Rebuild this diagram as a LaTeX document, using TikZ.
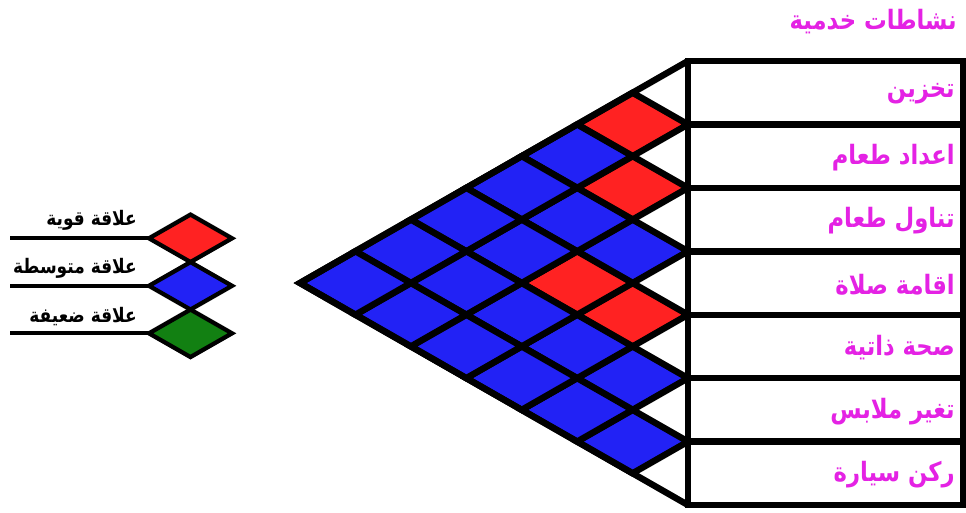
\documentclass[tikz,border=0pt]{standalone}
\usepackage{fontspec}
\setmainfont{DejaVu Sans}
\newfontfamily\arabicfont[Script=Arabic,FakeStretch=0.85]{DejaVu Sans}
\TeXXeTstate=1
\usetikzlibrary{shapes.geometric}
\definecolor{relred}{RGB}{255,34,34}
\definecolor{relblue}{RGB}{34,34,245}
\definecolor{relgreen}{RGB}{18,128,18}
\definecolor{actpink}{RGB}{228,34,228}
\tikzset{
  cell/.style={diamond,draw=black,line width=4.8pt,inner sep=0pt,outer sep=0pt,
    minimum width=83.14pt,minimum height=47.57pt},
  keycell/.style={diamond,draw=black,line width=3.2pt,inner sep=0pt,outer sep=0pt,
    minimum width=62.3pt,minimum height=35.6pt},
  rowbox/.style={draw=black,fill=white,line width=4.8pt,inner sep=0pt,outer sep=0pt,
    minimum width=206.25pt,minimum height=47.57pt},
  outline/.style={draw=black,line width=4.8pt},
  keyline/.style={draw=black,line width=3pt},
  actlabel/.style={anchor=east,text=actpink,inner sep=0pt,
    font=\arabicfont\bfseries\fontsize{20}{24}\selectfont},
  keylabel/.style={anchor=east,inner sep=0pt,
    font=\arabicfont\bfseries\fontsize{15}{18}\selectfont}
}
\begin{document}
\begin{tikzpicture}[x=0.75pt,y=-0.75pt]
  \useasboundingbox (0,0) rectangle (966,512);
  % relation cells
  \foreach \i/\j/\c in {1/2/relred,2/3/relred,3/4/relblue,4/5/relred,5/6/relblue,6/7/relblue,
      1/3/relblue,2/4/relblue,3/5/relred,4/6/relblue,5/7/relblue,
      1/4/relblue,2/5/relblue,3/6/relblue,4/7/relblue,
      1/5/relblue,2/6/relblue,3/7/relblue,
      1/6/relblue,2/7/relblue,1/7/relblue}
    \node[cell,fill=\c] (d\i\j) at ({688-(\j-\i)*55.43},{61+(\i+\j-1)*31.714}) {};
  % activities
  \node[actlabel] (title) at (957,22) {\beginR نشاطات خدمية\endR};
  \foreach \t [count=\k] in {تخزين,اعداد طعام,تناول طعام,اقامة صلاة,صحة ذاتية,تغير ملابس,ركن سيارة}{
    \node[rowbox] (row\k) at (825.5,{61+(\k-0.5)*63.43}) {};
    \node[actlabel] (act\k) at ([xshift=-6pt,yshift=-1pt]row\k.east) {\beginR \t\endR};
  }
  \draw[outline] (row1.north west) -- (d17.west) -- (row7.south west);
  % key
  \foreach \c/\t [count=\n] in {relred/علاقة قوية,relblue/علاقة متوسطة,relgreen/علاقة ضعيفة}{
    \coordinate (kstart\n) at (10,{238.3+(\n-1)*47.5});
    \node[keycell,fill=\c] (key\n) at (190.5,{238.3+(\n-1)*47.5}) {};
    \draw[keyline] (kstart\n) -- (key\n.west);
    \node[keylabel] (keytext\n) at (137,{220+(\n-1)*48.5}) {\beginR \t\endR};
  }
\end{tikzpicture}
\end{document}
